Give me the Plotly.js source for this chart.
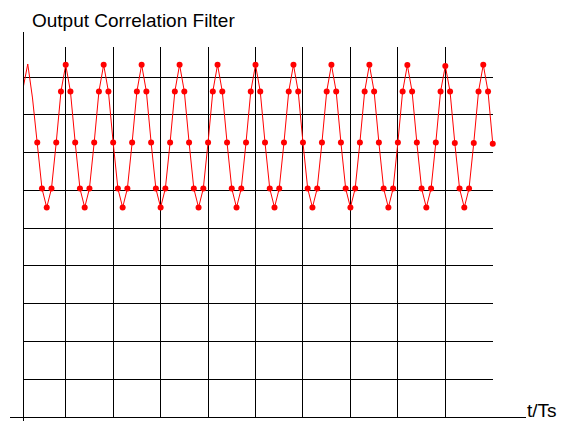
<!DOCTYPE html>
<html>
<head>
<meta charset="utf-8">
<script src="https://cdn.plot.ly/plotly-3.0.1.min.js"></script>
<style>
  html, body { margin: 0; padding: 0; background: #fff; }
  #chart { width: 565px; height: 421px; }
</style>
</head>
<body>
<div id="chart"></div>
<script>
// Sample index t (t/Ts)
const t = [
  1, 2, 3, 4, 5, 6, 7, 8, 9, 10,
  11, 12, 13, 14, 15, 16, 17, 18, 19, 20,
  21, 22, 23, 24, 25, 26, 27, 28, 29, 30,
  31, 32, 33, 34, 35, 36, 37, 38, 39, 40,
  41, 42, 43, 44, 45, 46, 47, 48, 49, 50,
  51, 52, 53, 54, 55, 56, 57, 58, 59, 60,
  61, 62, 63, 64, 65, 66, 67, 68, 69, 70,
  71, 72, 73, 74, 75, 76, 77, 78, 79, 80,
  81, 82, 83, 84, 85, 86, 87, 88, 89, 90,
  91, 92, 93, 94, 95, 96, 97, 98, 99, 100
];

// Output of the correlation filter (grid units)
const output = [
  8.70, 9.35, 8.45, 7.27, 6.05, 5.55, 6.05, 7.27, 8.62, 9.33,
  8.62, 7.27, 6.05, 5.55, 6.05, 7.27, 8.62, 9.33, 8.62, 7.27,
  6.05, 5.55, 6.05, 7.27, 8.62, 9.33, 8.62, 7.27, 6.05, 5.55,
  6.05, 7.27, 8.62, 9.33, 8.62, 7.27, 6.05, 5.55, 6.05, 7.27,
  8.62, 9.33, 8.62, 7.27, 6.05, 5.55, 6.05, 7.27, 8.62, 9.33,
  8.62, 7.27, 6.05, 5.55, 6.05, 7.27, 8.62, 9.33, 8.62, 7.27,
  6.05, 5.55, 6.05, 7.27, 8.62, 9.33, 8.62, 7.27, 6.05, 5.55,
  6.05, 7.27, 8.62, 9.33, 8.62, 7.27, 6.05, 5.55, 6.05, 7.27,
  8.62, 9.32, 8.62, 7.27, 6.05, 5.55, 6.05, 7.27, 8.62, 9.30,
  8.62, 7.26, 6.05, 5.55, 6.05, 7.26, 8.62, 9.33, 8.62, 7.24
];

// The first few samples are drawn without dots
const firstMarkedIndex = 3;

const xGrid = [10, 20, 30, 40, 50, 60, 70, 80, 90, 100];
const yGrid = [1, 2, 3, 4, 5, 6, 7, 8, 9];

const titleText = 'Output Correlation Filter';
const xLabel = 't/Ts';

const red = '#ff0000';
const font = 'Liberation Sans, Arial, sans-serif';

const traces = [
  {
    x: t, y: output, type: 'scatter', mode: 'lines',
    line: { color: red, width: 1 },
    cliponaxis: false, hoverinfo: 'skip', showlegend: false
  },
  {
    x: t.slice(firstMarkedIndex), y: output.slice(firstMarkedIndex),
    type: 'scatter', mode: 'markers',
    marker: { color: red, size: 6 },
    cliponaxis: false, hoverinfo: 'skip', showlegend: false
  }
];

const W = 565, H = 421;
const L = 23, R = 72, T = 47, B = 4;
const pw = W - L - R, ph = H - T - B;

const layout = {
  width: W, height: H,
  margin: { l: L, r: R, t: T, b: B, pad: 0 },
  paper_bgcolor: '#ffffff', plot_bgcolor: '#ffffff',
  font: { family: font, size: 19, color: '#000' },
  title: {
    text: titleText,
    font: { family: font, size: 19, color: '#000' },
    xref: 'container', x: 32 / W, xanchor: 'left',
    yref: 'container', y: 1 - 20 / H, yanchor: 'middle'
  },
  xaxis: {
    range: [1, 100.05],
    tickmode: 'array', tickvals: xGrid,
    showticklabels: false, ticks: '',
    showgrid: true, gridcolor: '#000', gridwidth: 1,
    zeroline: false, showline: false, fixedrange: true
  },
  yaxis: {
    range: [0, 9.8],
    tickmode: 'array', tickvals: yGrid,
    showticklabels: false, ticks: '',
    showgrid: true, gridcolor: '#000', gridwidth: 1,
    zeroline: false, showline: false, fixedrange: true
  },
  yaxis2: {
    overlaying: 'y', side: 'right', anchor: 'x',
    range: [0, 9.8],
    tickmode: 'array', tickvals: yGrid,
    showticklabels: false, ticks: 'inside', ticklen: 4, tickwidth: 2, tickcolor: '#000',
    showgrid: false, zeroline: false, showline: false, fixedrange: true
  },
  shapes: [
    { type: 'line', xref: 'paper', yref: 'paper', x0: 0.5 / pw, x1: 0.5 / pw,
      y0: -4 / ph, y1: (H - B - 32) / ph, line: { color: '#000', width: 1 } },
    { type: 'line', xref: 'paper', yref: 'paper', x0: (10 - L) / pw, x1: (526 - L) / pw,
      y0: -0.5 / ph, y1: -0.5 / ph, line: { color: '#000', width: 1 } }
  ],
  annotations: [
    { text: xLabel, xref: 'paper', yref: 'paper',
      x: (526 - L) / pw, xanchor: 'left', y: 0.018, yanchor: 'middle',
      showarrow: false, borderpad: 0, font: { family: font, size: 19, color: '#000' } }
  ]
};

Plotly.newPlot('chart', traces, layout, { displayModeBar: false, staticPlot: true });
</script>
</body>
</html>
